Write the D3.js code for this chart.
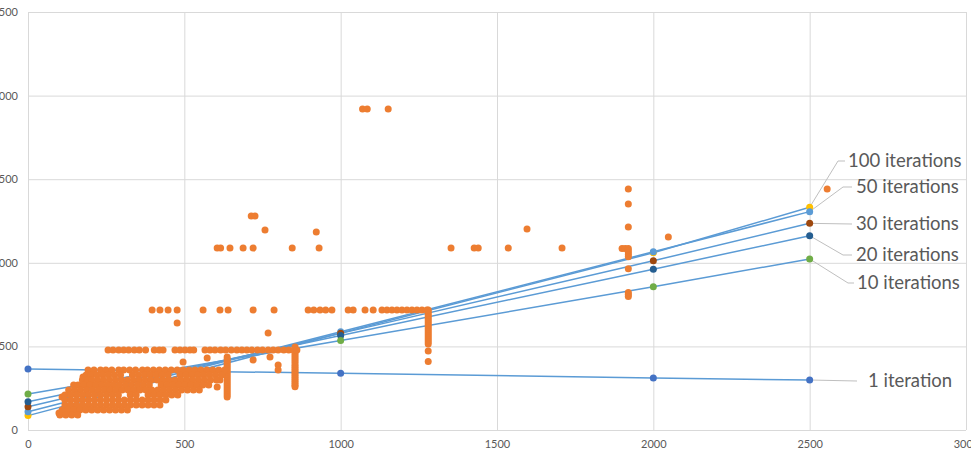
<!DOCTYPE html>
<html>
<head>
<meta charset="utf-8">
<script src="https://cdn.jsdelivr.net/npm/d3@7"></script>
<style>
  body { margin: 0; background: #fff; }
  svg text { font-family: Lato, "Open Sans", sans-serif; }
</style>
</head>
<body>
<svg id="chart" width="971" height="464"></svg>
<script>
// ticks
var xTicks = [0, 500, 1000, 1500, 2000, 2500, 3000];
var yTicks = [0, 500, 1000, 1500, 2000, 2500];

// fitted lines (one per iteration count)
var iterNames = ["1 iteration", "10 iterations", "20 iterations", "30 iterations", "50 iterations", "100 iterations"];
var iterX = [0, 1000, 2000, 2500];
var iter1 = [365, 339, 311, 299];
var iter10 = [215, 535, 857, 1023];
var iter20 = [169, 565, 962, 1162];
var iter30 = [139, 578, 1012, 1236];
var iter50 = [109, 588, 1066, 1306];
var iter100 = [86, 580, 1060, 1332];

// measured points (x, y)
var ptsOutliers = [[1070, 1920], [1085, 1920], [1152, 1920], [714, 1280], [726, 1280], [758, 1196], [922, 1184],
    [605, 1088], [616, 1088], [646, 1088], [688, 1088], [720, 1088], [845, 1088], [931, 1088],
    [1353, 1088], [1427, 1088], [1440, 1088], [1536, 1088], [1596, 1202], [1708, 1088],
    [2048, 1154], [2556, 1441], [477, 640], [768, 580]];
var ptsStack1920 = [[1920, 1441], [1920, 1352], [1920, 1214], [1900, 1085], [1910, 1085], [1920, 1085],
    [1920, 1072], [1920, 1060], [1920, 1048], [1920, 1036], [1920, 965], [1920, 822], [1920, 810], [1920, 798]];
var ptsStack1280 = [[1280, 718], [1280, 706], [1280, 694], [1280, 682], [1280, 670], [1280, 658], [1280, 646],
    [1280, 634], [1280, 622], [1280, 610], [1280, 598], [1280, 586], [1280, 574], [1280, 562], [1280, 550],
    [1280, 538], [1280, 526], [1280, 514], [1280, 472], [1280, 410]];
var ptsStack854 = [[854, 496], [854, 484], [854, 472], [854, 460], [854, 448], [854, 436], [854, 424], [854, 412],
    [854, 400], [854, 388], [854, 376], [854, 364], [854, 352], [854, 340], [854, 328], [854, 316], [854, 304],
    [854, 292], [854, 280], [854, 268], [854, 258]];
var ptsStack637 = [[637, 437], [637, 425], [637, 413], [637, 401], [637, 389], [637, 377], [637, 365], [637, 353],
    [637, 341], [637, 329], [637, 317], [637, 305], [637, 293], [637, 281], [637, 269], [637, 257], [637, 245],
    [637, 233], [637, 221], [637, 209], [637, 197]];
var rowA = [397, 422, 448, 477, 560, 614, 640, 720, 787, 896, 914, 934, 952, 972, 1024, 1040, 1078, 1104,
    1132, 1148, 1164, 1180, 1196, 1212, 1228, 1244, 1260, 1276]; // all at 718
var rowB = [256, 272, 290, 306, 322, 340, 356, 376, 404, 420, 432, 470, 486, 502, 518, 530, 566, 582, 598, 616,
    632, 650, 668, 684, 700, 716, 734, 750, 768, 784, 800, 818, 834, 850, 860]; // all at 478
var ptsMisc = [[496, 407], [573, 431], [720, 419], [774, 437], [800, 389], [800, 359], [605, 257], [614, 299],
    [176, 317], [109, 197], [99, 102]];
// dense cloud, rows of [y, xs]
var cloudRows = [
    [359, [192, 211, 232, 249, 268, 290, 306, 325, 344, 366, 382, 401, 420, 439, 458, 477, 496, 515, 534, 553, 572, 591, 610, 629]],
    [329, [186, 201, 220, 239, 258, 277, 296, 334, 353, 372, 391, 410, 429, 448, 486, 505, 524, 543, 562, 581, 600, 619]],
    [299, [174, 190, 204, 223, 242, 261, 280, 299, 318, 337, 356, 375, 394, 413, 432, 451, 470, 489, 508, 527, 546, 565, 584, 603]],
    [269, [146, 160, 179, 198, 217, 236, 255, 274, 293, 312, 331, 350, 369, 388, 426, 445, 464, 483, 502, 521, 540, 559, 578]],
    [239, [130, 149, 168, 187, 206, 225, 244, 263, 282, 301, 320, 339, 358, 377, 396, 415, 434, 453, 472, 491, 510, 529, 548]],
    [209, [118, 137, 156, 175, 194, 213, 232, 251, 270, 289, 327, 346, 384, 403, 422, 441, 460, 479]],
    [179, [118, 137, 156, 175, 194, 213, 232, 251, 270, 289, 308, 327, 346, 365, 384, 403, 422, 441]],
    [150, [118, 137, 156, 175, 194, 213, 232, 251, 270, 289, 308, 327, 346, 365, 384, 403, 422]],
    [120, [109, 128, 147, 166, 185, 204, 223, 242, 261, 280, 299, 318]],
    [90, [102, 121, 140, 159]]
];

// styles
var markerColors = ["#4472C4", "#70AD47", "#255E91", "#9E480E", "#5B9BD5", "#FFC000"];
var lineColor = "#5B9BD5";
var dotColor = "#ED7D31";
// label slots on the right (px): text x, text centre y, elbow x, leader end x
var labelSlots = [
    { tx: 868, ty: 381, ex: null, lx: 857 },
    { tx: 857, ty: 283, ex: 848, lx: 854 },
    { tx: 856, ty: 255, ex: 843, lx: 852 },
    { tx: 856, ty: 224, ex: null, lx: 852 },
    { tx: 856, ty: 187, ex: 843, lx: 852 },
    { tx: 848, ty: 161, ex: 838, lx: 845 }
];

var svg = d3.select("#chart");
var x = d3.scaleLinear().domain([0, 3000]).range([28, 966]);
var y = d3.scaleLinear().domain([0, 2500]).range([430, 12]);

// grid + tick labels
var xAxis = svg.append("g")
    .attr("transform", "translate(0," + y(0) + ")")
    .call(d3.axisBottom(x).tickValues(xTicks).tickSize(-(y(0) - y(2500))).tickPadding(10).tickFormat(d3.format("d")));
var yAxis = svg.append("g")
    .attr("transform", "translate(" + x(0) + ",0)")
    .call(d3.axisLeft(y).tickValues(yTicks).tickSize(-(x(3000) - x(0))).tickPadding(10).tickFormat(d3.format("d")));
[xAxis, yAxis].forEach(function (g) {
    g.select(".domain").remove();
    g.selectAll(".tick line").attr("stroke", "#d9d9d9");
    g.selectAll(".tick text").attr("fill", "#595959").style("font-size", "11px");
});

// leader lines go under everything else
var leaderG = svg.append("g");

// lines
var series = [iter1, iter10, iter20, iter30, iter50, iter100].map(function (vals, i) {
    return { name: iterNames[i], pts: iterX.map(function (xv, j) { return [xv, vals[j]]; }) };
});
var line = d3.line().x(function (d) { return x(d[0]); }).y(function (d) { return y(d[1]); });
svg.append("g").selectAll("path")
    .data(series)
    .enter()
    .append("path")
    .attr("d", function (d) { return line(d.pts); })
    .attr("fill", "none")
    .attr("stroke", lineColor)
    .attr("stroke-width", 1.5);

// scatter
var allPts = [].concat(ptsOutliers, ptsStack1920, ptsStack1280, ptsStack854, ptsStack637, ptsMisc,
    rowA.map(function (v) { return [v, 718]; }),
    rowB.map(function (v) { return [v, 478]; }));
cloudRows.forEach(function (r) {
    r[1].forEach(function (v) { allPts.push([v, r[0]]); });
});
svg.append("g").selectAll("circle")
    .data(allPts)
    .enter()
    .append("circle")
    .attr("cx", function (d) { return x(d[0]); })
    .attr("cy", function (d) { return y(d[1]); })
    .attr("r", 3.5)
    .attr("fill", dotColor);

// markers, 100 iterations first so the smaller counts sit on top
series.slice().reverse().forEach(function (s, k) {
    var i = series.length - 1 - k;
    svg.append("g").selectAll("circle")
        .data(s.pts)
        .enter()
        .append("circle")
        .attr("cx", function (d) { return x(d[0]); })
        .attr("cy", function (d) { return y(d[1]); })
        .attr("r", 3.5)
        .attr("fill", markerColors[i]);
});

// leader lines + labels
series.forEach(function (s, i) {
    var last = s.pts[s.pts.length - 1];
    var slot = labelSlots[i];
    var pts = [[x(last[0]), y(last[1])]];
    if (slot.ex !== null) pts.push([slot.ex, slot.ty]);
    pts.push([slot.lx, slot.ty]);
    leaderG.append("path")
        .attr("d", d3.line()(pts))
        .attr("fill", "none")
        .attr("stroke", "#bfbfbf")
        .attr("stroke-width", 1);
    svg.append("text")
        .attr("x", slot.tx)
        .attr("y", slot.ty)
        .attr("dy", "0.35em")
        .attr("fill", "#595959")
        .style("font-size", "18.5px")
        .text(s.name);
});
</script>
</body>
</html>
